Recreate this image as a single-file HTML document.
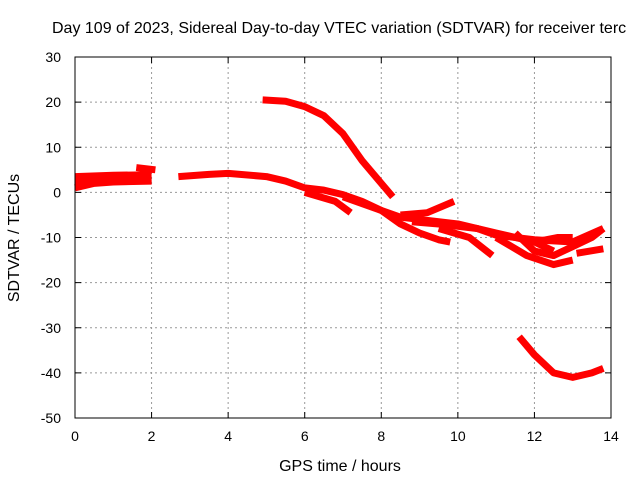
<!DOCTYPE html>
<html><head><meta charset="utf-8"><style>
body{margin:0;background:#fff;overflow:hidden;}
svg{display:block;font-family:"Liberation Sans",sans-serif;}
</style></head><body>
<svg id="c" width="640" height="480">
<text x="52" y="33" font-size="16" text-anchor="start">Day 109 of 2023, Sidereal Day-to-day VTEC variation (SDTVAR) for receiver terc</text>
<text x="340" y="471" font-size="16" text-anchor="middle">GPS time / hours</text>
<text transform="translate(19,238) rotate(-90)" font-size="16" text-anchor="middle">SDTVAR / TECUs</text>
<g id="grid"></g><g id="series"></g><g id="axes"></g>
</svg>
<script>
const xTicks=[0,2,4,6,8,10,12,14];
const yTicks=[30,20,10,0,-10,-20,-30,-40,-50];
const arcA=[[0,1],[0.5,2],[1,2.3],[2,2.5]];
const arcA2=[[0,2.3],[1,2.9],[2,3.1]];
const arcB=[[0,3.5],[1,3.8],[2,3.9]];
const arcC=[[1.6,5.5],[2.1,5]];
const arcD=[[2.7,3.5],[3.5,4],[4,4.2],[5,3.5],[5.5,2.5],[6,1],[6.5,0.5],[7,-0.5],[7.5,-2],[8,-4],[8.5,-5.5],[9,-6],[10,-7],[11,-9],[12,-11],[12.5,-13]];
const arcE=[[4.9,20.5],[5.5,20.2],[6,19],[6.5,17],[7,13],[7.5,7],[8,2],[8.3,-1]];
const arcF=[[6,0],[6.8,-2],[7.2,-4.5]];
const arcG=[[7,-1],[8,-4],[8.5,-7],[9,-9],[9.5,-10.5],[9.8,-11]];
const arcH=[[8.5,-5],[9.2,-4.5],[9.9,-2]];
const arcI=[[8.8,-6.5],[9.5,-7],[10.5,-8],[11,-9.5],[12,-10.5],[13,-11],[13.8,-8]];
const arcJ=[[9.5,-8],[10.3,-10],[10.9,-14]];
const arcK=[[11,-10],[11.8,-14],[12.5,-16],[13,-15]];
const arcL=[[11.5,-9],[12,-13],[12.5,-14],[13,-12],[13.5,-10],[13.8,-8]];
const arcM=[[12,-11],[12.6,-10],[13,-10]];
const arcN=[[13.1,-13.5],[13.8,-12.5]];
const arcO=[[11.6,-32],[12,-36],[12.5,-40],[13,-41],[13.5,-40],[13.8,-39]];
const allArcs=[arcA,arcA2,arcB,arcC,arcD,arcE,arcF,arcG,arcH,arcI,arcJ,arcK,arcL,arcM,arcN,arcO];
const X0=75,X1=611,Y0=418,Y1=57;
const sx=v=>X0+(v-0)/14*(X1-X0);
const sy=v=>Y0-(v+50)/80*(Y0-Y1);
const NS="http://www.w3.org/2000/svg";
const grid=document.getElementById('grid'),axes=document.getElementById('axes'),ser=document.getElementById('series');
function mk(tag,at,parent){const e=document.createElementNS(NS,tag);for(const k in at)e.setAttribute(k,at[k]);parent.appendChild(e);return e;}
xTicks.forEach(t=>{const x=sx(t);
 if(t>0&&t<14){const g=mk('line',{x1:x,x2:x,y1:Y1,y2:Y0,stroke:'#999','stroke-dasharray':'2,3'},grid);}
 mk('line',{x1:x,x2:x,y1:Y0,y2:Y0-6,stroke:'#000'},axes);mk('line',{x1:x,x2:x,y1:Y1,y2:Y1+6,stroke:'#000'},axes);
 const l=mk('text',{x:x,y:Y0+23,'font-size':14,'text-anchor':'middle'},axes);l.textContent=t;
 });
yTicks.forEach(t=>{const y=sy(t);
 if(t>-50&&t<30){const g=mk('line',{x1:X0,x2:X1,y1:y,y2:y,stroke:'#999','stroke-dasharray':'2,3'},grid);}
 mk('line',{x1:X0,x2:X0+6,y1:y,y2:y,stroke:'#000'},axes);mk('line',{x1:X1,x2:X1-6,y1:y,y2:y,stroke:'#000'},axes);
 const l=mk('text',{x:X0-14,y:y+5,'font-size':14,'text-anchor':'end'},axes);l.textContent=t;
 });
const fr=mk('rect',{x:X0,y:Y1,width:X1-X0,height:Y0-Y1,fill:'none',stroke:'#000'},axes);

allArcs.forEach(a=>{const p=mk('polyline',{points:a.map(d=>sx(d[0])+','+sy(d[1])).join(' '),fill:'none',stroke:'#f00','stroke-width':7,'stroke-linejoin':'round'},ser);
 });
</script>
</body></html>
